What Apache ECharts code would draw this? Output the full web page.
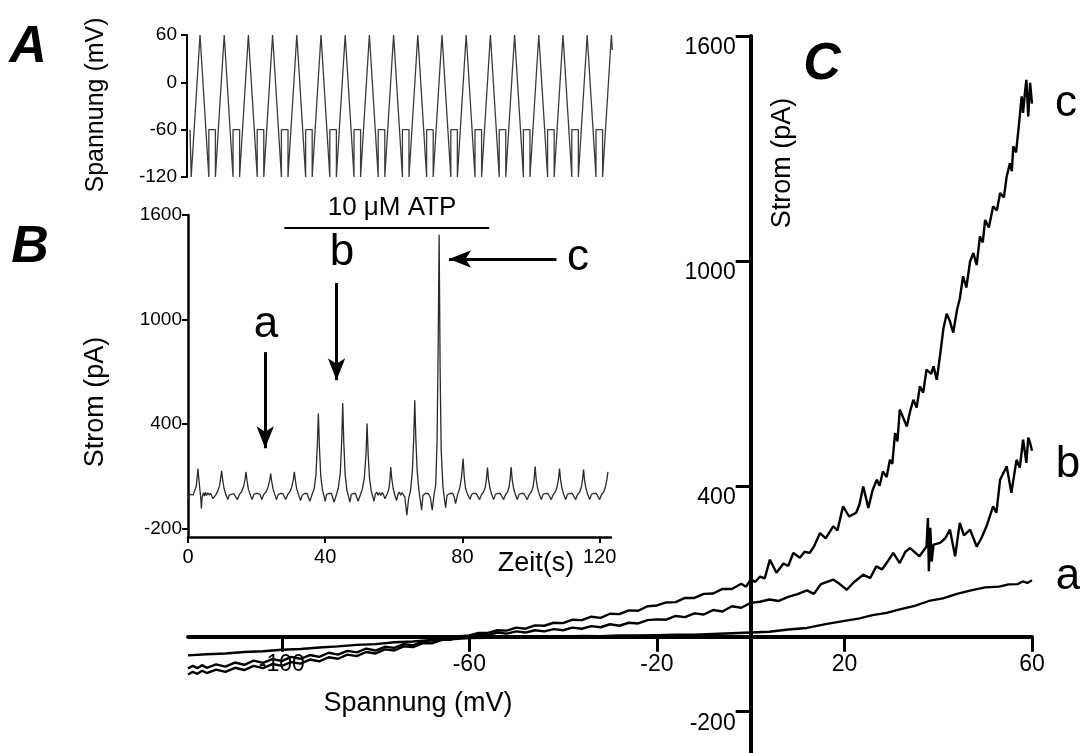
<!DOCTYPE html>
<html>
<head>
<meta charset="utf-8">
<script src="https://cdn.jsdelivr.net/npm/echarts@6/dist/echarts.min.js"></script>
<style>
html,body{margin:0;padding:0;background:#fff;}
#chart{width:1080px;height:753px;}
</style>
</head>
<body>
<div id="chart"></div>
<script>
// ---------- Panel A: voltage protocol (time s, mV) ----------
const voltA = [
[0,-60],
[0.35,-60],[0.35,-120],[2.93,60],[5.51,-120],[5.51,-60],
[7.43,-60],[7.43,-120],[10.01,60],[12.59,-120],[12.59,-60],
[14.51,-60],[14.51,-120],[17.09,60],[19.67,-120],[19.67,-60],
[21.59,-60],[21.59,-120],[24.17,60],[26.75,-120],[26.75,-60],
[28.68,-60],[28.68,-120],[31.26,60],[33.84,-120],[33.84,-60],
[35.76,-60],[35.76,-120],[38.34,60],[40.92,-120],[40.92,-60],
[42.84,-60],[42.84,-120],[45.42,60],[48.00,-120],[48.00,-60],
[49.92,-60],[49.92,-120],[52.50,60],[55.08,-120],[55.08,-60],
[57.01,-60],[57.01,-120],[59.59,60],[62.17,-120],[62.17,-60],
[64.09,-60],[64.09,-120],[66.67,60],[69.25,-120],[69.25,-60],
[71.17,-60],[71.17,-120],[73.75,60],[76.33,-120],[76.33,-60],
[78.25,-60],[78.25,-120],[80.83,60],[83.41,-120],[83.41,-60],
[85.34,-60],[85.34,-120],[87.92,60],[90.50,-120],[90.50,-60],
[92.42,-60],[92.42,-120],[95.00,60],[97.58,-120],[97.58,-60],
[99.50,-60],[99.50,-120],[102.08,60],[104.66,-120],[104.66,-60],
[106.58,-60],[106.58,-120],[109.16,60],[111.74,-120],[111.74,-60],
[113.66,-60],[113.66,-120],[116.24,60],[118.82,-120],[118.82,-60],
[120.75,-60],[120.75,-120],[123.33,60],[123.6,41]
];
const ticksA = [-120,-60,0,60];

// ---------- Panel B: current vs time (s, pA) ----------
const currB = [
[0.0,-30],[0.4,-5],[0.9,2],[1.5,-8],[2.0,0],[2.4,40],[2.7,100],[2.9,143],[3.1,95],[3.4,35],[3.7,-20],[3.9,-87],[4.1,-25],[4.5,5],[4.8,-15],[5.1,8],[5.4,-12],[5.8,4],[6.2,-10],[6.6,2],[7.0,-5],[7.3,-30],[7.6,-35],[8.2,-5],[8.7,15],[9.2,45],[9.5,85],[9.8,130],[10.1,80],[10.5,30],[11.0,-5],[11.6,-35],[12.0,-10],[12.5,0],[13.3,0],[13.8,-8],[14.4,-35],[15.0,-5],[15.6,10],[16.2,40],[16.6,80],[16.9,124],[17.2,75],[17.6,25],[18.1,-5],[18.7,-35],[19.2,-5],[19.8,0],[20.4,0],[21.0,-5],[21.5,-35],[22.1,-5],[22.8,10],[23.3,35],[23.8,75],[24.1,115],[24.4,70],[24.8,25],[25.3,-5],[25.8,-35],[26.3,-5],[27.0,0],[27.6,0],[28.0,-5],[28.5,-35],[29.1,-5],[29.7,10],[30.2,35],[30.7,80],[31.0,124],[31.3,75],[31.7,25],[32.2,-5],[32.8,-40],[33.3,-10],[34.0,0],[34.7,0],[35.1,-8],[35.5,-45],[36.1,-10],[36.8,30],[37.3,110],[37.7,280],[38.0,460],[38.3,270],[38.7,100],[39.2,20],[39.7,-20],[40.0,-45],[40.4,-5],[41.0,0],[41.8,0],[42.2,-10],[42.6,-50],[43.2,-10],[43.8,30],[44.4,120],[44.8,300],[45.1,520],[45.4,300],[45.8,110],[46.3,20],[46.9,-25],[47.2,-50],[47.6,-5],[48.2,0],[48.8,0],[49.2,-10],[49.6,-45],[50.2,-10],[50.8,25],[51.4,90],[51.9,230],[52.2,402],[52.5,230],[52.9,90],[53.4,15],[53.9,-20],[54.2,-45],[54.6,-5],[55.0,8],[55.4,-10],[55.8,5],[56.2,-12],[56.6,6],[57.0,-8],[57.4,-30],[57.7,-40],[58.1,0],[58.6,30],[58.9,90],[59.1,152],[59.4,85],[59.8,30],[60.3,-10],[60.8,-40],[61.2,-5],[61.6,8],[62.0,-10],[62.4,5],[62.8,-8],[63.2,-20],[63.8,-125],[64.3,-30],[64.9,20],[65.4,130],[65.8,320],[66.1,536],[66.4,320],[66.8,130],[67.3,20],[67.8,-50],[68.1,-96],[68.5,-10],[69.2,0],[70.0,0],[70.6,-20],[71.2,-96],[71.7,-10],[72.2,50],[72.6,300],[72.9,800],[73.2,1486],[73.5,700],[73.8,250],[74.3,40],[74.8,-40],[75.1,-81],[75.5,-10],[76.3,0],[77.2,0],[77.6,-20],[78.0,-58],[78.6,-5],[79.2,30],[79.7,90],[80.2,201],[80.5,100],[80.9,30],[81.5,-5],[82.2,-33],[82.7,-5],[83.3,0],[84.0,0],[84.5,-5],[85.0,-35],[85.6,-5],[86.2,10],[86.7,40],[87.0,85],[87.3,149],[87.6,80],[88.0,30],[88.5,-5],[89.1,-35],[89.6,-5],[90.3,0],[91.0,0],[91.5,-5],[92.0,-35],[92.6,-5],[93.2,10],[93.6,40],[93.9,85],[94.2,152],[94.5,80],[94.9,30],[95.4,-5],[96.0,-35],[96.5,-5],[97.2,0],[97.9,0],[98.4,-5],[98.9,-35],[99.5,-5],[100.1,10],[100.6,40],[100.9,85],[101.2,155],[101.5,80],[101.9,30],[102.4,-5],[103.0,-35],[103.5,-5],[104.2,0],[104.9,0],[105.4,-5],[105.9,-35],[106.5,-5],[107.1,10],[107.6,40],[108.0,85],[108.3,143],[108.6,80],[109.0,30],[109.5,-5],[110.1,-35],[110.6,-5],[111.3,0],[112.0,0],[112.5,-5],[113.0,-35],[113.6,-5],[114.2,10],[114.7,40],[115.0,80],[115.3,138],[115.6,75],[116.0,30],[116.5,-5],[117.1,-35],[117.6,-5],[118.3,0],[119.0,0],[119.5,-5],[120.0,-35],[120.6,-5],[121.2,10],[121.7,40],[122.1,80],[122.4,124]
];
const ticksBx = [0,40,80,120];
const ticksBy = [-200,400,1000,1600];
// annotations in panel B data units
const atpBar = [[28.1,1525],[87.8,1525]];
const arrowA = [[22.5,812],[22.5,260]];
const arrowB = [[43.3,1209],[43.3,651]];
const arrowC = [[107.4,1347],[76.1,1347]];

// ---------- Panel C: I-V ramps (mV, pA) ----------
const ivA = [
[-120,-50],[-116,-47],[-112,-45],[-108,-41],[-104,-39],[-100,-35],[-96,-33],[-92,-29],[-88,-26],[-84,-22],[-80,-20],[-76,-15],[-72,-13],[-68,-9],[-64,-7],[-60,-4],[-56,-3],[-52,-1],[-48,-1],[-44,1],[-40,0],[-36,2],[-32,1],[-28,3],[-24,3],[-20,4],[-16,5],[-12,5],[-8,7],[-4,9],[0,11],[4,13],[8,19],[12,23],[16,33],[20,42],[23,48],[26,57],[29,63],[32,73],[35,82],[38,95],[41,102],[44,114],[47,123],[50,131],[53,133],[55,139],[57,140],[58,147],[59,143],[60,150]
];
const ivB = [
[-120,-85],[-119,-78],[-118,-84],[-117,-76],[-116,-83],[-114,-74],[-112,-80],[-110,-69],[-108,-75],[-106,-64],[-104,-70],[-102,-60],[-100,-65],[-98,-54],[-96,-59],[-94,-49],[-92,-54],[-90,-43],[-88,-48],[-86,-38],[-84,-42],[-82,-32],[-80,-37],[-78,-27],[-76,-30],[-74,-20],[-72,-23],[-70,-13],[-68,-16],[-66,-6],[-64,-8],[-62,0],[-60,-1],[-58,6],[-56,4],[-54,11],[-52,8],[-50,14],[-48,11],[-46,17],[-44,14],[-42,20],[-40,17],[-38,24],[-36,21],[-34,28],[-32,25],[-30,33],[-28,29],[-26,37],[-24,35],[-22,44],[-20,46],[-18,45],[-16,55],[-14,52],[-12,62],[-10,59],[-8,71],[-6,67],[-4,81],[-2,77],[0,90],[2,93],[4,99],[6,95],[8,106],[10,113],[12,123],[13.5,114],[15,140],[17.6,152],[19,140],[20.5,125],[22,145],[24,165],[25.5,156],[26.8,187],[28,179],[29.2,200],[30.4,223],[31.8,196],[33,226],[34,236],[36,214],[37.5,240],[37.8,316],[38,174],[38.3,290],[38.6,200],[39,245],[40.4,250],[41.5,262],[42.5,285],[43.6,214],[44.6,303],[45.5,270],[46.8,285],[48.2,240],[49.2,262],[50.3,294],[51.7,347],[52.4,330],[53.2,418],[54.6,454],[55.6,383],[56.7,471],[57.4,450],[58.1,525],[58.8,463],[59.2,530],[59.6,516],[60,495]
];
const ivC = [
[-120,-101],[-119,-94],[-118,-99],[-117,-91],[-116,-97],[-114,-88],[-112,-94],[-110,-83],[-108,-89],[-106,-78],[-104,-84],[-102,-73],[-100,-78],[-98,-68],[-96,-72],[-94,-61],[-92,-66],[-90,-55],[-88,-59],[-86,-48],[-84,-52],[-82,-41],[-80,-45],[-78,-34],[-76,-37],[-74,-26],[-72,-28],[-70,-18],[-68,-18],[-66,-9],[-64,-7],[-62,1],[-60,3],[-58,10],[-56,10],[-54,17],[-52,16],[-50,24],[-48,21],[-46,30],[-44,29],[-42,37],[-40,36],[-38,45],[-36,44],[-34,53],[-32,50],[-30,61],[-28,60],[-26,70],[-24,69],[-22,81],[-20,83],[-18,91],[-16,92],[-14,103],[-12,103],[-10,114],[-8,115],[-6,127],[-4,127],[-2,141],[-1,133],[0,152],[1,146],[2,160],[3,155],[4.1,205],[5.5,170],[7,195],[8,188],[9.1,223],[10.5,210],[11.5,226],[12.6,223],[13.5,240],[14.8,276],[16,262],[17.6,294],[18.5,283],[19.7,347],[21,320],[22.5,330],[23.2,352],[24,400],[25.1,343],[26.0,390],[26.9,418],[27.5,402],[28.2,440],[29.0,425],[29.7,471],[30.2,460],[30.8,542],[31.3,520],[31.8,605],[33.3,560],[34.0,600],[34.7,631],[35.4,610],[36.1,667],[36.8,650],[37.5,711],[38.5,700],[39.0,720],[39.7,684],[40.5,760],[41.1,820],[41.8,860],[42.5,840],[43.2,810],[44.0,870],[44.6,900],[45.3,960],[46,930],[46.8,1000],[47.5,1022],[48.2,990],[48.9,1066],[49.5,1050],[50,1110],[50.8,1090],[51.7,1146],[52.5,1135],[53.2,1182],[54,1170],[54.6,1226],[55.3,1261],[55.7,1240],[56,1306],[56.6,1290],[57.1,1350],[57.8,1439],[58.1,1395],[58.5,1450],[58.8,1483],[59.2,1386],[59.6,1475],[60,1420]
];
const ticksCx = [-100,-60,-20,20,60];
const ticksCy = [-200,400,1000,1600];

const FONT = 'Liberation Sans, Arial, Helvetica, sans-serif';
const BLACK = '#000';
const plain = (v) => String(v);

function txt(text, x, y, size, opts) {
  opts = opts || {};
  return {
    type: 'text', x: x, y: y, rotation: opts.rotation || 0, silent: true, z: 100,
    style: {
      text: text, fill: BLACK, fontFamily: FONT, fontSize: size,
      fontWeight: opts.bold ? 'bold' : 'normal',
      fontStyle: opts.italic ? 'italic' : 'normal',
      align: 'center', verticalAlign: 'middle'
    }
  };
}

const chart = echarts.init(document.getElementById('chart'), null, {renderer: 'canvas'});

const axisTxt = (size, extra) => Object.assign({color: BLACK, fontFamily: FONT, fontSize: size, formatter: plain}, extra || {});

const gridC = {left: 188, top: 36, width: 844, height: 717, containLabel: false, outerBoundsMode: 'none'};

const option = {
  backgroundColor: '#fff',
  animation: false,
  grid: [
    {left: 187, top: 35, width: 426, height: 142, containLabel: false, outerBoundsMode: 'none'},
    {left: 188, top: 215, width: 423, height: 322, containLabel: false, outerBoundsMode: 'none'},
    gridC
  ],
  xAxis: [
    {gridIndex: 0, type: 'value', min: -0.88, max: 123.8, show: false},
    {gridIndex: 1, type: 'value', min: 0, max: 123.3, interval: 40, position: 'bottom',
     axisLine: {onZero: false, lineStyle: {color: BLACK, width: 2.5}},
     axisTick: {length: 6, lineStyle: {color: BLACK, width: 2}, customValues: ticksBx},
     axisLabel: axisTxt(20, {margin: 10, customValues: ticksBx}),
     splitLine: {show: false}},
    {gridIndex: 2, type: 'value', min: -120, max: 60, position: 'bottom', offset: 0,
     axisLine: {onZero: false, lineStyle: {color: BLACK, width: 4}},
     axisTick: {length: 15, lineStyle: {color: BLACK, width: 3}, customValues: ticksCx},
     axisLabel: axisTxt(23, {margin: 17, customValues: ticksCx}),
     splitLine: {show: false}}
  ],
  yAxis: [
    {gridIndex: 0, type: 'value', min: -120, max: 60, interval: 60, position: 'left',
     axisLine: {show: true, onZero: false, lineStyle: {color: BLACK, width: 2}},
     axisTick: {show: true, length: 6, lineStyle: {color: BLACK, width: 2}, customValues: ticksA},
     axisLabel: axisTxt(19, {margin: 10, customValues: ticksA}),
     splitLine: {show: false}},
    {gridIndex: 1, type: 'value', min: -250, max: 1600, position: 'left',
     axisLine: {show: true, onZero: false, lineStyle: {color: BLACK, width: 2.5}},
     axisTick: {show: true, length: 6, lineStyle: {color: BLACK, width: 2}, customValues: ticksBy},
     axisLabel: axisTxt(19, {margin: 6, customValues: ticksBy}),
     splitLine: {show: false}},
    {gridIndex: 2, type: 'value', min: -310, max: 1600, position: 'left', offset: 0,
     axisLine: {show: true, onZero: false, lineStyle: {color: BLACK, width: 4}},
     axisTick: {show: true, length: 15, lineStyle: {color: BLACK, width: 3}, customValues: ticksCy},
     axisLabel: axisTxt(23, {margin: 15, verticalAlign: 'top', customValues: ticksCy}),
     splitLine: {show: false}}
  ],
  series: [
    {type: 'line', xAxisIndex: 0, yAxisIndex: 0, data: voltA, symbol: 'none',
     lineStyle: {color: '#3a3a3a', width: 1.3}, silent: true},
    {type: 'line', xAxisIndex: 1, yAxisIndex: 1, data: currB, symbol: 'none',
     lineStyle: {color: '#2a2a2a', width: 1.3}, silent: true,
     markLine: {
       silent: true, animation: false,
       symbol: ['none', 'arrow'], symbolSize: [13, 22],
       label: {show: false},
       lineStyle: {color: BLACK, width: 3, type: 'solid'},
       emphasis: {disabled: true},
       data: [
         [{coord: atpBar[0], symbol: 'none', lineStyle: {width: 2}}, {coord: atpBar[1], symbol: 'none'}],
         [{coord: arrowA[0]}, {coord: arrowA[1]}],
         [{coord: arrowB[0]}, {coord: arrowB[1]}],
         [{coord: arrowC[0]}, {coord: arrowC[1]}]
       ]
     }},
    {type: 'line', xAxisIndex: 2, yAxisIndex: 2, data: ivA, symbol: 'none',
     lineStyle: {color: BLACK, width: 2.3}, silent: true},
    {type: 'line', xAxisIndex: 2, yAxisIndex: 2, data: ivB, symbol: 'none',
     lineStyle: {color: BLACK, width: 2.4}, silent: true},
    {type: 'line', xAxisIndex: 2, yAxisIndex: 2, data: ivC, symbol: 'none',
     lineStyle: {color: BLACK, width: 2.4}, silent: true}
  ],
  graphic: [
    txt('A', 28, 48, 52, {bold: true, italic: true}),
    txt('B', 30, 248, 52, {bold: true, italic: true}),
    txt('C', 822, 65, 52, {bold: true, italic: true}),
    txt('Spannung (mV)', 96, 105, 25, {rotation: Math.PI / 2}),
    txt('Strom (pA)', 96, 402, 27, {rotation: Math.PI / 2}),
    txt('Zeit(s)', 536, 564, 27),
    txt('10 \u03bcM ATP', 392, 208, 26),
    txt('a', 266, 325, 44),
    txt('b', 342, 253, 44),
    txt('c', 578, 258, 44),
    txt('Strom (pA)', 783, 163, 27, {rotation: Math.PI / 2}),
    txt('Spannung (mV)', 418, 704, 27),
    txt('c', 1066, 104, 44),
    txt('b', 1068, 465, 44),
    txt('a', 1068, 577, 44)
  ]
};
chart.setOption(option);

// Place panel C's axes so that they cross at the origin (0 mV, 0 pA)
const zeroX = chart.convertToPixel({xAxisIndex: 2}, 0);
const zeroY = chart.convertToPixel({yAxisIndex: 2}, 0);
chart.setOption({
  xAxis: [{}, {}, {offset: zeroY - (gridC.top + gridC.height)}],
  yAxis: [{}, {}, {offset: gridC.left - zeroX}]
});
</script>
</body>
</html>
